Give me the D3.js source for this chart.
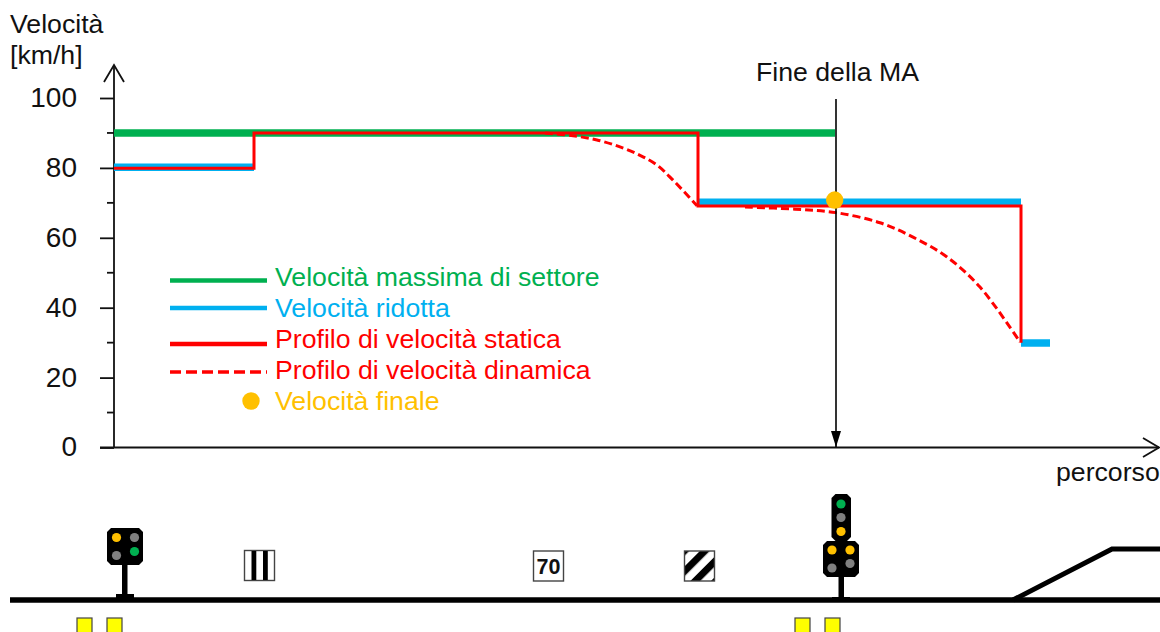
<!DOCTYPE html>
<html>
<head>
<meta charset="utf-8">
<script src="https://d3js.org/d3.v7.min.js"></script>
<style>
  body { margin: 0; background: #fff; }
  text { font-family: "Liberation Sans", Arial, sans-serif; fill: #111; }
</style>
</head>
<body>
<div id="chart"></div>
<script>
const width = 1160;
const height = 632;

// speed ticks
const majorTicks = [0, 20, 40, 60, 80, 100];
const minorTicks = [10, 30, 50, 70, 90];

// speed profiles, [distance, km/h]
const maxSpeed = [[0, 90], [721, 90]];
const reducedSpeed1 = [[0, 80.2], [140, 80.2]];
const reducedSpeed2 = [[584, 70.2], [907, 70.2]];
const reducedSpeed3 = [[907, 29.9], [936, 29.9]];
const staticProfile = [[0, 79.9], [140, 79.9], [140, 90], [584, 90], [584, 69.1], [907, 69.1], [907, 30]];
const dynamicProfile1 = [[431, 90], [459, 89.2], [483, 88], [506, 86], [526, 83.6], [543, 80.8], [559, 76.5], [583, 69.2]];
const dynamicProfile2 = [[631, 68.8], [681, 68.2], [722, 67.2], [766, 64.3], [799, 60.2], [833, 54.5], [866, 45.9], [906, 30.2]];
const finalSpeed = [720.7, 70.8];
const endOfMA = 722;

const legendLabels = ["Velocità massima di settore", "Velocità ridotta", "Profilo di velocità statica", "Profilo di velocità dinamica", "Velocità finale"];
const legendColors = ["#00B050", "#00B0F0", "#FF0000", "#FF0000", "#FFC000"];

// trackside objects, by distance
const signal1 = 11;
const barsBoard = 147;
const speedBoard = 435;
const hatchBoard = 587;
const signal2 = 727;
const balises1 = [-29, 1];
const balises2 = [689, 719];
const branch = [[899, 0], [998, 51], [1046, 51]];

const green = "#00B050", blue = "#00B0F0", red = "#FF0000", amber = "#FFC000", grey = "#808080";

const svg = d3.select("#chart").append("svg")
    .attr("width", width)
    .attr("height", height)
    .style("display", "block");

const xScale = d3.scaleLinear().domain([0, 1046]).range([114, 1160]);
const yScale = d3.scaleLinear().domain([0, 100]).range([447.5, 98]);

const line = d3.line().x(d => xScale(d[0])).y(d => yScale(d[1]));
const curve = d3.line().x(d => xScale(d[0])).y(d => yScale(d[1])).curve(d3.curveCatmullRom);

// hatch pattern for the diagonal board
const pattern = svg.append("defs").append("pattern")
    .attr("id", "hatch")
    .attr("patternUnits", "userSpaceOnUse")
    .attr("width", 14.5)
    .attr("height", 14.5)
    .attr("patternTransform", "rotate(45)");
pattern.append("rect").attr("width", 14.5).attr("height", 14.5).attr("fill", "#fff");
pattern.append("rect").attr("width", 7).attr("height", 14.5).attr("fill", "#000");

// axes
const axisY = svg.append("g")
    .attr("transform", "translate(114,0)")
    .call(d3.axisLeft(yScale).tickValues(majorTicks).tickSize(14).tickSizeOuter(0).tickPadding(23));
axisY.select(".domain").remove();
axisY.selectAll(".tick line").attr("stroke", "#111").attr("stroke-width", 1.8);
axisY.selectAll(".tick text").attr("font-size", 28).style("font-family", "'Liberation Sans', Arial, sans-serif").attr("fill", "#111").attr("dy", "0.3em");

svg.selectAll(".minor")
    .data(minorTicks)
    .enter()
    .append("line")
    .attr("class", "minor")
    .attr("x1", 107)
    .attr("x2", 114)
    .attr("y1", d => yScale(d))
    .attr("y2", d => yScale(d))
    .attr("stroke", "#111")
    .attr("stroke-width", 1.8);

const axisStroke = sel => sel.attr("fill", "none").attr("stroke", "#111").attr("stroke-width", 1.8);
svg.append("path").attr("d", "M114,447.5 V65").call(axisStroke);
svg.append("path").attr("d", "M104,82 L114,65 L124,82").call(axisStroke);
svg.append("path").attr("d", "M100,447.5 H1159").call(axisStroke);
svg.append("path").attr("d", "M1143,438 L1159,447.5 L1143,457").call(axisStroke);

// speed lines
[[maxSpeed, green], [reducedSpeed1, blue], [reducedSpeed2, blue], [reducedSpeed3, blue]].forEach(s => {
    svg.append("path")
        .attr("d", line(s[0]))
        .attr("fill", "none")
        .attr("stroke", s[1])
        .attr("stroke-width", 7.5);
});

[dynamicProfile1, dynamicProfile2].forEach(p => {
    svg.append("path")
        .attr("d", curve(p))
        .attr("fill", "none")
        .attr("stroke", red)
        .attr("stroke-width", 3)
        .attr("stroke-dasharray", "8 4");
});

svg.append("path")
    .attr("d", line(staticProfile))
    .attr("fill", "none")
    .attr("stroke", red)
    .attr("stroke-width", 3);

// end of movement authority
svg.append("line")
    .attr("x1", xScale(endOfMA))
    .attr("x2", xScale(endOfMA))
    .attr("y1", 99)
    .attr("y2", 447)
    .attr("stroke", "#000")
    .attr("stroke-width", 1.6);
svg.append("path")
    .attr("d", `M${xScale(endOfMA) - 5},431 L${xScale(endOfMA) + 5},431 L${xScale(endOfMA)},447 Z`)
    .attr("fill", "#000");

svg.append("circle")
    .attr("cx", xScale(finalSpeed[0]))
    .attr("cy", yScale(finalSpeed[1]))
    .attr("r", 8.7)
    .attr("fill", amber);

// titles
const title = svg.append("g").attr("font-size", 26.67);
title.append("text").attr("x", 10).attr("y", 33).text("Velocità");
title.append("text").attr("x", 10).attr("y", 64).text("[km/h]");
title.append("text").attr("x", 756).attr("y", 81).text("Fine della MA");
title.append("text").attr("x", 1056).attr("y", 481).text("percorso");

// legend
const legendY = [280.5, 308, 344, 372, 401];
const legendTextY = [286, 317, 348, 379, 410];

svg.selectAll(".legend-text")
    .data(legendLabels)
    .enter()
    .append("text")
    .attr("class", "legend-text")
    .attr("x", 275)
    .attr("y", (d, i) => legendTextY[i])
    .attr("font-size", 26.67)
    .style("fill", (d, i) => legendColors[i])
    .text(d => d);

[0, 1, 2, 3].forEach(i => {
    svg.append("line")
        .attr("x1", 170)
        .attr("x2", 267)
        .attr("y1", legendY[i])
        .attr("y2", legendY[i])
        .attr("stroke", legendColors[i])
        .attr("stroke-width", i === 3 ? 3.6 : 4.4)
        .attr("stroke-dasharray", i === 3 ? "11 5" : null);
});
svg.append("circle").attr("cx", 251).attr("cy", legendY[4]).attr("r", 8.7).attr("fill", amber);

// track
const trackY = 600;
svg.append("line")
    .attr("x1", 10).attr("x2", 1160)
    .attr("y1", trackY).attr("y2", trackY)
    .attr("stroke", "#000").attr("stroke-width", 5.5);
svg.append("path")
    .attr("d", d3.line().x(d => xScale(d[0])).y(d => trackY - d[1])(branch))
    .attr("fill", "none")
    .attr("stroke", "#000")
    .attr("stroke-width", 5);

// octagon with clipped corners
function head(g, x, y, w, h, c) {
    g.append("path")
        .attr("d", `M${x + c},${y} H${x + w - c} L${x + w},${y + c} V${y + h - c} L${x + w - c},${y + h} H${x + c} L${x},${y + h - c} V${y + c} Z`)
        .attr("fill", "#000");
}
function lamps(g, list) {
    g.selectAll(null)
        .data(list)
        .enter()
        .append("circle")
        .attr("cx", d => d[0])
        .attr("cy", d => d[1])
        .attr("r", 4.6)
        .attr("fill", d => d[2]);
}

// first signal
const s1 = svg.append("g").attr("transform", `translate(${xScale(signal1)},0)`);
s1.append("rect").attr("x", -3).attr("y", 565).attr("width", 5.5).attr("height", 33).attr("fill", "#000");
s1.append("rect").attr("x", -9).attr("y", 594).attr("width", 18).attr("height", 6).attr("fill", "#000");
head(s1, -18, 528, 36, 37, 4);
lamps(s1, [[-8.5, 537.5, amber], [9.5, 537.5, grey], [-8.5, 555.5, grey], [9.5, 551.5, green]]);

// second signal
const s2 = svg.append("g").attr("transform", `translate(${xScale(signal2)},0)`);
s2.append("rect").attr("x", -2.5).attr("y", 577).attr("width", 5.5).attr("height", 21).attr("fill", "#000");
s2.append("rect").attr("x", -9).attr("y", 597).attr("width", 18).attr("height", 3).attr("fill", "#000");
head(s2, -9.5, 494, 19.5, 47, 4);
head(s2, -18, 541, 36, 36, 4);
lamps(s2, [[0, 504, green], [0, 517.5, grey], [0, 531.5, amber], [-9, 550, amber], [9, 550, amber], [-9, 568, grey], [9, 563.5, grey]]);

// boards
const boardStroke = sel => sel.attr("stroke", "#444").attr("stroke-width", 1.4);
const bars = svg.append("g").attr("transform", `translate(${xScale(barsBoard)},0)`);
bars.append("rect").attr("x", -16.5).attr("y", 550.5).attr("width", 30).attr("height", 30).attr("fill", "#fff").call(boardStroke);
bars.append("rect").attr("x", -9.5).attr("y", 551).attr("width", 4.8).attr("height", 29).attr("fill", "#000");
bars.append("rect").attr("x", 2).attr("y", 551).attr("width", 4.8).attr("height", 29).attr("fill", "#000");

const speed = svg.append("g").attr("transform", `translate(${xScale(speedBoard)},0)`);
speed.append("rect").attr("x", -15.5).attr("y", 551).attr("width", 30).attr("height", 30).attr("fill", "#fff").call(boardStroke);
speed.append("text").attr("x", -0.5).attr("y", 574).attr("text-anchor", "middle").attr("font-size", 21.5).attr("font-weight", "bold").text("70");

svg.append("rect")
    .attr("x", xScale(hatchBoard) - 16.5).attr("y", 551)
    .attr("width", 30).attr("height", 30)
    .attr("fill", "url(#hatch)")
    .call(boardStroke);

// balises
svg.selectAll(".balise")
    .data(balises1.concat(balises2))
    .enter()
    .append("rect")
    .attr("class", "balise")
    .attr("x", d => xScale(d) - 8)
    .attr("y", 618)
    .attr("width", 15)
    .attr("height", 16)
    .attr("fill", "#FFFF00")
    .attr("stroke", "#444")
    .attr("stroke-width", 1.2);
</script>
</body>
</html>
